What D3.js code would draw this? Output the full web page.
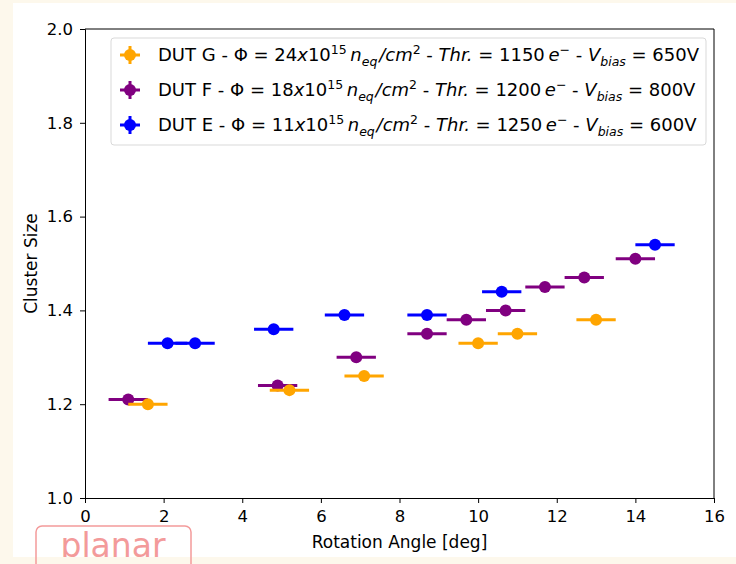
<!DOCTYPE html>
<html>
<head>
<meta charset="utf-8">
<script src="https://cdn.jsdelivr.net/npm/d3@7"></script>
<style>
  html, body { margin: 0; padding: 0; background: #fdf8ec; }
  svg { display: block; font-family: "DejaVu Sans", sans-serif; }
</style>
</head>
<body>
<div id="chart"></div>
<script>
// data
const xTicks = [0, 2, 4, 6, 8, 10, 12, 14, 16];
const yTicks = [1.0, 1.2, 1.4, 1.6, 1.8, 2.0];
const angleErr = 0.5;

const dutG_angle = [1.6, 5.2, 7.1, 10.0, 11.0, 13.0];
const dutG_size = [1.20, 1.23, 1.26, 1.33, 1.35, 1.38];

const dutF_angle = [1.1, 4.9, 6.9, 8.7, 9.7, 10.7, 11.7, 12.7, 14.0];
const dutF_size = [1.21, 1.24, 1.30, 1.35, 1.38, 1.40, 1.45, 1.47, 1.51];

const dutE_angle = [2.1, 2.8, 4.8, 6.6, 8.7, 10.6, 14.5];
const dutE_size = [1.33, 1.33, 1.36, 1.39, 1.39, 1.44, 1.54];

const series = [
  { name: 'G', flu: '24', thr: '1150', v: '650', color: '#ffa500', angle: dutG_angle, size: dutG_size },
  { name: 'F', flu: '18', thr: '1200', v: '800', color: '#800080', angle: dutF_angle, size: dutF_size },
  { name: 'E', flu: '11', thr: '1250', v: '600', color: '#0000ff', angle: dutE_angle, size: dutE_size }
];

const W = 736, H = 564;
const margin = { top: 29, right: 22, bottom: 66, left: 85 };
const width = W - margin.left - margin.right,
  height = H - margin.top - margin.bottom;

const root = d3.select('#chart')
  .append('svg')
  .attr('width', W)
  .attr('height', H);

// white figure panel over the cream page
root.append('rect')
  .attr('x', 13).attr('y', 3)
  .attr('width', W - 13).attr('height', 554)
  .attr('fill', '#ffffff');

const svg = root.append('g')
  .attr('transform', `translate(${margin.left},${margin.top})`);

const x = d3.scaleLinear().domain([0, 16]).range([0, width]);
const y = d3.scaleLinear().domain([1.0, 2.0]).range([height, 0]);

// axes
svg.append('g')
  .attr('transform', `translate(0,${height})`)
  .call(d3.axisBottom(x).tickValues(xTicks).tickFormat(d3.format('d')).tickSize(5).tickPadding(7))
  .call(g => g.selectAll('text').attr('font-size', 16.5).attr('fill', '#000').attr('font-family', 'DejaVu Sans'));

svg.append('g')
  .call(d3.axisLeft(y).tickValues(yTicks).tickFormat(d3.format('.1f')).tickSize(5).tickPadding(7))
  .call(g => g.selectAll('text').attr('font-size', 16.5).attr('fill', '#000').attr('font-family', 'DejaVu Sans'));

svg.selectAll('.domain').attr('stroke', '#000');
svg.selectAll('.tick line').attr('stroke', '#000');

// top & right spines
svg.append('line').attr('x1', 0).attr('x2', width).attr('y1', 0).attr('y2', 0).attr('stroke', '#000');
svg.append('line').attr('x1', width).attr('x2', width).attr('y1', 0).attr('y2', height).attr('stroke', '#000');

// axis labels
svg.append('text')
  .attr('x', width / 2).attr('y', height + 50)
  .attr('text-anchor', 'middle')
  .attr('font-size', 17)
  .text('Rotation Angle [deg]');

svg.append('text')
  .attr('transform', `translate(${-48},${height / 2}) rotate(-90)`)
  .attr('text-anchor', 'middle')
  .attr('font-size', 17)
  .text('Cluster Size');

// points with horizontal error bars (orange drawn last, it sits on top)
const drawOrder = [series[2], series[1], series[0]];
drawOrder.forEach(s => {
  const pts = s.angle.map((a, i) => ({ a: a, c: s.size[i] }));
  const g = svg.append('g');
  g.selectAll('line')
    .data(pts)
    .enter()
    .append('line')
    .attr('x1', d => x(d.a - angleErr))
    .attr('x2', d => x(d.a + angleErr))
    .attr('y1', d => y(d.c))
    .attr('y2', d => y(d.c))
    .attr('stroke', s.color)
    .attr('stroke-width', 3);
  g.selectAll('circle')
    .data(pts)
    .enter()
    .append('circle')
    .attr('cx', d => x(d.a))
    .attr('cy', d => y(d.c))
    .attr('r', 6)
    .attr('fill', s.color);
});

// legend
const legend = svg.append('g').attr('transform', 'translate(26,9)');
legend.append('rect')
  .attr('width', 595).attr('height', 107)
  .attr('rx', 3)
  .attr('fill', '#fff')
  .attr('fill-opacity', 0.8)
  .attr('stroke', '#d9d9d9');

series.forEach((s, i) => {
  const row = legend.append('g').attr('transform', `translate(0,${17 + i * 35})`);
  row.append('line').attr('x1', 9).attr('x2', 29).attr('stroke', s.color).attr('stroke-width', 3);
  row.append('line').attr('x1', 19).attr('x2', 19).attr('y1', -9).attr('y2', 9).attr('stroke', s.color).attr('stroke-width', 3);
  row.append('circle').attr('cx', 19).attr('r', 6).attr('fill', s.color);

  const t = row.append('text').attr('x', 47).attr('y', 6).attr('font-size', 18);
  const parts = [
    [`DUT ${s.name} - \u03A6 = ${s.flu}`, ''],
    ['x', 'i'],
    ['10', ''],
    ['15', 'sup'],
    ['\u2009', ''],
    ['n', 'i'],
    ['eq', 'isub'],
    ['\u200A/cm', 'i'],
    ['2', 'sup'],
    [' - ', ''],
    ['Thr.', 'i'],
    [` = ${s.thr}\u2009`, ''],
    ['e', 'i'],
    ['\u2212', 'sup'],
    ['  - ', ''],
    ['V', 'i'],
    ['bias', 'isub'],
    [` = ${s.v}V`, '']
  ];
  let shift = 0;
  parts.forEach(p => {
    const ts = t.append('tspan').text(p[0]);
    let target = 0;
    if (p[1] === 'i') ts.attr('font-style', 'italic');
    if (p[1] === 'sup') { ts.attr('font-size', 12.5); target = -7; }
    if (p[1] === 'isub') { ts.attr('font-size', 12.5).attr('font-style', 'italic'); target = 5; }
    if (target !== shift) ts.attr('dy', target - shift);
    shift = target;
  });
});

// "planar" tag in the bottom-left corner
const tag = root.append('g');
tag.append('rect')
  .attr('x', 36).attr('y', 526)
  .attr('width', 155).attr('height', 50)
  .attr('rx', 6)
  .attr('fill', 'none')
  .attr('stroke', '#f39a9a')
  .attr('stroke-width', 1.5);
root.append('clipPath').attr('id', 'tagclip')
  .append('rect').attr('x', 0).attr('y', 0).attr('width', W).attr('height', 557);
tag.append('text')
  .attr('x', 113).attr('y', 557)
  .attr('text-anchor', 'middle')
  .attr('font-size', 33)
  .attr('fill', '#f39a9a')
  .attr('clip-path', 'url(#tagclip)')
  .text('planar');
</script>
</body>
</html>
